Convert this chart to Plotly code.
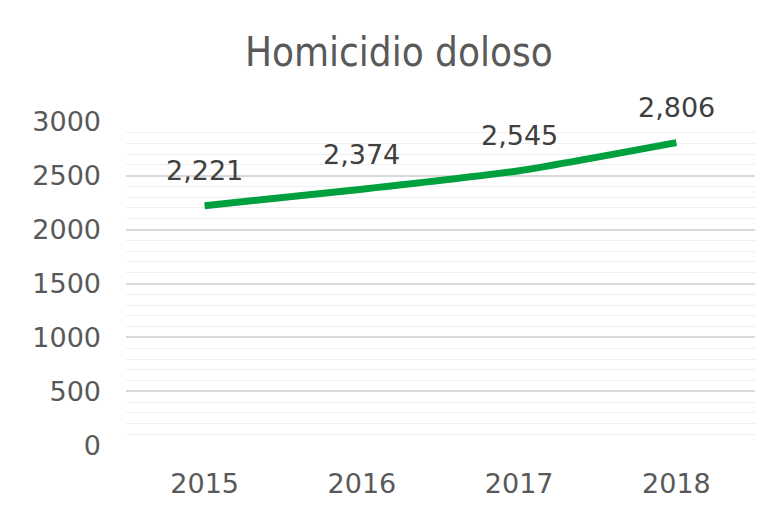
import plotly.graph_objects as go

years = ["2015", "2016", "2017", "2018"]
values = [2221, 2374, 2545, 2806]
labels = ["2,221", "2,374", "2,545", "2,806"]
title_text = "Homicidio doloso"

FONT = "DejaVu Sans, sans-serif"

fig = go.Figure()
fig.add_trace(go.Scatter(
    x=years, y=values, mode="lines",
    line=dict(color="#00A03E", width=7, shape="spline", smoothing=0.5),
    hoverinfo="skip", showlegend=False,
))
for i, (y, t) in enumerate(zip(values, labels)):
    fig.add_annotation(x=i, y=y, text=t, showarrow=False, yshift=35,
                       font=dict(family=FONT, size=27, color="#404040"))

fig.update_layout(
    width=782, height=505,
    margin=dict(l=126, r=27, t=121, b=59, autoexpand=False),
    paper_bgcolor="white", plot_bgcolor="white",
    title=dict(text=title_text, x=0.51, xanchor="center", y=0.897, yanchor="middle",
               font=dict(family="DejaVu Sans Condensed, sans-serif",
                         size=40, color="#595959")),
    xaxis=dict(type="category", range=[-0.5, 3.5], showgrid=False, showline=False,
               zeroline=False, ticks="", ticklabelstandoff=19, automargin=False,
               tickfont=dict(family=FONT, size=27, color="#595959")),
    yaxis=dict(range=[-6, 3006], tickvals=[0, 500, 1000, 1500, 2000, 2500, 3000],
               showgrid=True, gridcolor="#D9D9D9", gridwidth=1.5, automargin=False,
               minor=dict(tickvals=[v for v in range(100, 3000, 100) if v % 500],
                          showgrid=True, gridcolor="#EFEFEF", gridwidth=1),
               zeroline=False, showline=False, ticks="", ticklabelstandoff=24,
               tickfont=dict(family=FONT, size=27, color="#595959")),
)
fig.write_html("out.html", config={"displayModeBar": False},
               post_script="document.body.style.margin='0';")
